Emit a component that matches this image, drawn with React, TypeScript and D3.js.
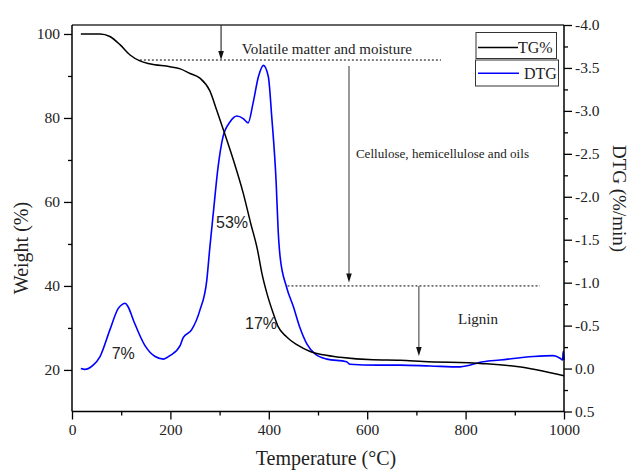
import React, { useEffect, useRef } from 'react';
import * as d3 from 'd3';

const tgTemp = [18, 57, 77, 98, 118, 138, 158, 199, 220, 240, 260, 280, 294, 308, 328, 348, 363, 377, 386, 396, 409, 419, 436, 457, 484, 511, 545, 612, 667, 714, 836, 904, 1000];
const tgWeight = [100, 100, 99.4, 97.4, 95.0, 93.6, 92.9, 92.2, 91.7, 90.6, 89.5, 86.5, 81.9, 77.1, 70.0, 62.1, 55.0, 48.6, 43.0, 38.3, 33.5, 30.3, 27.9, 26.0, 24.4, 23.6, 23.0, 22.4, 22.3, 22.0, 21.5, 20.8, 18.6];

const dtgTemp = [18, 26, 43, 57, 77, 94, 103, 108, 114, 125, 148, 169, 186, 199, 220, 226, 243, 260, 274, 280, 287, 297, 307, 321, 335, 348, 358, 368, 379, 389, 399, 406, 415, 419, 423, 436, 450, 463, 477, 494, 518, 558, 565, 620, 667, 728, 789, 836, 870, 938, 978, 992, 997, 998.6, 1000];
const dtgRate = [0.0, 0.01, -0.04, -0.14, -0.45, -0.70, -0.75, -0.76, -0.72, -0.56, -0.27, -0.14, -0.11, -0.15, -0.27, -0.36, -0.45, -0.68, -1.03, -1.40, -1.80, -2.35, -2.70, -2.87, -2.94, -2.91, -2.86, -3.09, -3.40, -3.53, -3.40, -2.93, -2.16, -1.61, -1.30, -0.95, -0.72, -0.48, -0.29, -0.17, -0.11, -0.08, -0.05, -0.04, -0.04, -0.03, -0.02, -0.08, -0.10, -0.14, -0.15, -0.12, -0.10, -0.20, -0.10];

const xTicks = [0, 200, 400, 600, 800, 1000];
const xMinor = [100, 300, 500, 700, 900];
const leftTicks = [20, 40, 60, 80, 100];
const leftMinor = [30, 50, 70, 90];
const rightTicks = [-4, -3.5, -3, -2.5, -2, -1.5, -1, -0.5, 0, 0.5];
const rightMinor = [-3.75, -3.25, -2.75, -2.25, -1.75, -1.25, -0.75, -0.25, 0.25];

const legendLabels = ['TG%', 'DTG'];
const stageLabels = ['Volatile matter and moisture', 'Cellulose, hemicellulose and oils', 'Lignin'];
const percentLabels = ['53%', '17%', '7%'];

const W = 630, H = 476;
const L = 72, R = 564, T = 25, B = 411.5;
const SERIF = '"Liberation Serif", "Times New Roman", serif';
const SANS = '"Liberation Sans", Arial, sans-serif';

export default function App() {
  const axRef = useRef<SVGGElement>(null);
  const x = d3.scaleLinear().domain([0, 1000]).range([L, R]);
  const yL = d3.scaleLinear().domain([10.1, 102.14]).range([B, T]);
  const yR = d3.scaleLinear().domain([0.5, -4]).range([B, T]);

  const tgLine = d3.line<number>().x((d, i) => x(tgTemp[i])).y(d => yL(d)).curve(d3.curveMonotoneX);
  const dtgLine = d3.line<number>().x((d, i) => x(dtgTemp[i])).y(d => yR(d)).curve(d3.curveMonotoneX);

  useEffect(() => {
    const g = d3.select(axRef.current);
    g.selectAll('*').remove();
    const style = (sel: any) => {
      sel.selectAll('text').attr('font-family', SERIF).attr('font-size', 15.5).attr('fill', '#222');
      sel.selectAll('line').attr('stroke', '#000').attr('stroke-width', 1.3);
      sel.select('.domain').remove();
    };
    g.append('g').attr('transform', `translate(0,${B})`)
      .call(d3.axisBottom(x).tickValues(xTicks).tickSize(8).tickPadding(4).tickSizeOuter(0).tickFormat(d3.format('d') as any)).call(style);
    g.append('g').attr('transform', `translate(0,${B})`)
      .call(d3.axisBottom(x).tickValues(xMinor).tickSize(4).tickFormat(() => '').tickSizeOuter(0)).call(style);
    g.append('g').attr('transform', `translate(${L},0)`)
      .call(d3.axisLeft(yL).tickValues(leftTicks).tickSize(8).tickPadding(4).tickSizeOuter(0).tickFormat(d3.format('d') as any)).call(style);
    g.append('g').attr('transform', `translate(${L},0)`)
      .call(d3.axisLeft(yL).tickValues(leftMinor).tickSize(4).tickFormat(() => '').tickSizeOuter(0)).call(style);
    g.append('g').attr('transform', `translate(${R},0)`)
      .call(d3.axisRight(yR).tickValues(rightTicks).tickSize(8).tickPadding(3).tickSizeOuter(0).tickFormat((v: any) => (+v).toFixed(1))).call(style);
    g.append('g').attr('transform', `translate(${R},0)`)
      .call(d3.axisRight(yR).tickValues(rightMinor).tickSize(4).tickFormat(() => '').tickSizeOuter(0)).call(style);
  }, []);

  const arrowHead = (px: number, py: number) => `M${px},${py} L${px - 2.8},${py - 9} L${px + 2.8},${py - 9} Z`;

  // annotation anchors in data units
  const a1x = x(303), a1top = yL(102.14), a1tip = yL(93.8);
  const a2x = x(563), a2top = yL(92.4), a2tip = yL(40.8);
  const a3x = x(705), a3top = yL(40), a3tip = yL(23.3);

  return (
    <svg width={W} height={H} style={{ position: 'absolute', left: 0, top: 0, background: '#fff' }}>
      <rect x={0} y={0} width={W} height={H} fill="#fff" />
      {/* curves */}
      <path d={dtgLine(dtgRate) || ''} fill="none" stroke="#0000ff" strokeWidth={1.6} />
      <path d={tgLine(tgWeight) || ''} fill="none" stroke="#000" strokeWidth={1.5} />

      {/* frame */}
      <line x1={L} x2={R} y1={T} y2={T} stroke="#333" strokeWidth={1.6} />
      <line x1={L} x2={L} y1={T} y2={B} stroke="#000" strokeWidth={1.5} />
      <line x1={R} x2={R} y1={T} y2={B} stroke="#000" strokeWidth={1.5} />
      <line x1={L} x2={R} y1={B} y2={B} stroke="#000" strokeWidth={1.5} />
      <g ref={axRef} />

      {/* dotted guide lines */}
      <line x1={x(138)} x2={x(750)} y1={yL(93.8)} y2={yL(93.8)} stroke="#000" strokeWidth={1} strokeDasharray="2,2" />
      <line x1={x(438)} x2={x(951)} y1={yL(40)} y2={yL(40)} stroke="#000" strokeWidth={1} strokeDasharray="2,2" />

      {/* arrows */}
      <line x1={a1x} x2={a1x} y1={a1top} y2={a1tip - 4} stroke="#333" strokeWidth={1.2} />
      <path d={arrowHead(a1x, a1tip)} fill="#111" />
      <line x1={a2x} x2={a2x} y1={a2top} y2={a2tip - 4} stroke="#555" strokeWidth={1.2} />
      <path d={arrowHead(a2x, a2tip)} fill="#111" />
      <line x1={a3x} x2={a3x} y1={a3top} y2={a3tip - 4} stroke="#555" strokeWidth={1.2} />
      <path d={arrowHead(a3x, a3tip)} fill="#111" />

      {/* stage labels */}
      <text x={x(345)} y={yL(95.2)} fontFamily={SERIF} fontSize={15} fill="#222">{stageLabels[0]}</text>
      <text x={x(577)} y={yL(70.4)} fontFamily={SERIF} fontSize={13.1} fill="#222">{stageLabels[1]}</text>
      <text x={x(784.5)} y={yL(31)} fontFamily={SERIF} fontSize={15} fill="#222">{stageLabels[2]}</text>

      {/* percent labels */}
      <text x={x(292.7)} y={yL(53.7)} fontFamily={SANS} fontSize={16} fill="#222">{percentLabels[0]}</text>
      <text x={x(351.6)} y={yL(29.7)} fontFamily={SANS} fontSize={16} fill="#222">{percentLabels[1]}</text>
      <text x={x(80.7)} y={yL(22.5)} fontFamily={SANS} fontSize={16} fill="#222">{percentLabels[2]}</text>

      {/* legend */}
      <rect x={476} y={32.5} width={80.5} height={26} fill="#fff" stroke="#333" strokeWidth={1} />
      <line x1={478} x2={518} y1={47.5} y2={47.5} stroke="#000" strokeWidth={1.5} />
      <text x={518} y={53} fontFamily={SERIF} fontSize={16} fill="#222">{legendLabels[0]}</text>
      <rect x={475.5} y={60} width={83} height={26} fill="#fff" stroke="#333" strokeWidth={1} />
      <line x1={478} x2={519} y1={73.3} y2={73.3} stroke="#0000ff" strokeWidth={1.6} />
      <text x={524} y={79} fontFamily={SERIF} fontSize={16} fill="#222">{legendLabels[1]}</text>

      {/* axis titles */}
      <text x={326} y={465} textAnchor="middle" fontFamily={SERIF} fontSize={20} fill="#222">Temperature (°C)</text>
      <text transform={`translate(28,248) rotate(-90)`} textAnchor="middle" fontFamily={SERIF} fontSize={20} fill="#222">Weight (%)</text>
      <text transform={`translate(613,198.5) rotate(90)`} textAnchor="middle" fontFamily={SERIF} fontSize={19} fill="#222">DTG (%/min)</text>
    </svg>
  );
}
